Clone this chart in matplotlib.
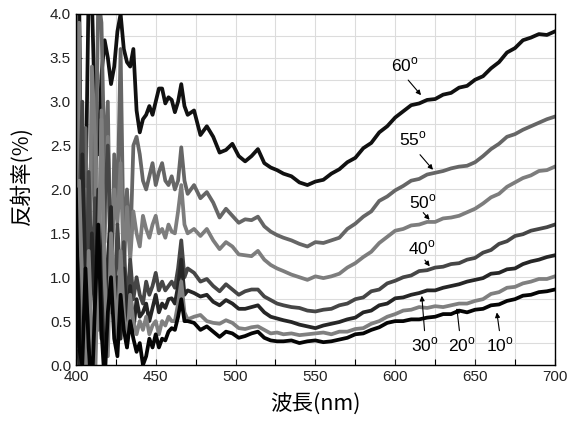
import numpy as np
import matplotlib.pyplot as plt
from matplotlib.ticker import MultipleLocator

plt.rcParams['font.family'] = ['Liberation Sans', 'DejaVu Sans']
plt.rcParams['mathtext.fontset'] = 'custom'
plt.rcParams['mathtext.rm'] = 'Liberation Sans'

# wavelength grid (nm): fine steps in the noisy blue end, coarser further on
wl = np.concatenate([np.arange(400, 471, 2), np.arange(474, 531, 4), np.arange(535, 701, 5)])

# reflectance (%) per incidence angle
r60 = [2.7, 4.3, 0.5, 1.8, 4.3, 4.2, 2.8, 2.4, 3.3, 3.7,
       3.5, 3.2, 3.4, 3.8, 4.0, 3.6, 3.45, 3.4, 3.6, 2.9,
       2.65, 2.8, 2.85, 2.95, 2.85, 3.0, 3.15, 3.15, 2.98, 3.05,
       3.02, 2.88, 3.0, 3.2, 2.95, 2.85,
       2.9, 2.62, 2.72, 2.6, 2.42, 2.45, 2.52, 2.38, 2.32, 2.38,
       2.46, 2.3, 2.25, 2.22, 2.18,
       2.15, 2.08, 2.05, 2.09, 2.11, 2.18, 2.23, 2.31, 2.36, 2.47,
       2.53, 2.65, 2.72, 2.82, 2.89, 2.96, 2.98, 3.02, 3.03, 3.08,
       3.1, 3.16, 3.18, 3.25, 3.29, 3.38, 3.45, 3.56, 3.61, 3.7,
       3.73, 3.77, 3.76, 3.8]
r55 = [4.3, 1.0, 0.2, 2.7, 0.8, 3.0, 1.5, 4.2, 3.9, 2.2,
       3.0, 0.6, 2.4, 1.8, 3.6, 1.2, 2.0, 1.3, 2.5, 2.6,
       2.4, 2.1, 2.0, 2.15, 2.3, 2.05, 2.2, 2.3, 2.1, 2.05,
       2.15, 2.0, 2.1, 2.48, 2.1, 1.95,
       2.05, 1.9, 1.97, 1.85, 1.68, 1.78, 1.7, 1.62, 1.66, 1.65,
       1.69, 1.58, 1.52, 1.48, 1.45,
       1.42, 1.38, 1.35, 1.4, 1.39, 1.42, 1.45, 1.55, 1.61, 1.69,
       1.75, 1.87, 1.92, 1.99, 2.04, 2.1, 2.12, 2.17, 2.19, 2.21,
       2.24, 2.26, 2.27, 2.31, 2.38, 2.46, 2.52, 2.6, 2.63, 2.68,
       2.72, 2.76, 2.8, 2.83]
r50 = [0.9, 3.9, 0.3, 2.0, 0.1, 3.4, 2.6, 0.4, 2.9, 1.4,
       2.6, 1.0, 2.0, 1.6, 2.3, 1.1, 1.8, 1.2, 1.75, 1.5,
       1.35, 1.7, 1.55, 1.45, 1.6, 1.7, 1.5, 1.55, 1.45, 1.6,
       1.52, 1.5, 1.75, 2.05, 1.6, 1.5,
       1.55, 1.47, 1.55, 1.42, 1.32, 1.4, 1.35, 1.26, 1.25, 1.24,
       1.3, 1.2, 1.14, 1.1, 1.07,
       1.03, 1.0, 0.97, 1.01, 0.99, 1.01, 1.04, 1.11, 1.16, 1.23,
       1.29, 1.39, 1.46, 1.53, 1.55, 1.59, 1.6, 1.63, 1.63, 1.67,
       1.68, 1.7, 1.74, 1.78, 1.84, 1.91, 1.95, 2.03, 2.08, 2.13,
       2.16, 2.21, 2.22, 2.26]
r40 = [0.4, 1.6, 3.0, 0.2, 2.2, 0.9, 1.9, 1.1, 0.3, 1.8,
       2.5, 1.3, 0.5, 1.6, 0.9, 1.4, 0.6, 1.2, 0.75, 1.0,
       0.8, 0.7, 0.95, 0.8, 0.9, 1.05, 0.85, 0.95, 0.85, 0.9,
       0.95, 0.88, 1.1, 1.42, 1.0, 1.1,
       1.05, 0.95, 0.98, 0.9, 0.84, 0.92, 0.86, 0.8, 0.84, 0.86,
       0.86, 0.78, 0.74, 0.7, 0.68,
       0.66, 0.65, 0.62, 0.61, 0.63, 0.64, 0.68, 0.7, 0.75, 0.77,
       0.84, 0.86, 0.93, 0.96, 1.0, 1.02, 1.07, 1.08, 1.11, 1.12,
       1.15, 1.16, 1.2, 1.22, 1.28, 1.31, 1.38, 1.41, 1.47, 1.49,
       1.53, 1.55, 1.57, 1.6]
r30 = [1.3, 0.0, 2.4, 1.0, -0.2, 1.5, 0.6, 2.0, 0.9, 0.2,
       1.2, 1.8, 0.4, 1.0, 0.3, 1.1, 0.5, 0.9, 0.4, 0.75,
       0.55, 0.6, 0.7, 0.5, 0.65, 0.8, 0.6, 0.7, 0.65, 0.75,
       0.76, 0.7, 0.9, 1.2, 0.8, 0.85,
       0.82, 0.78, 0.8, 0.72, 0.68, 0.74, 0.7, 0.64, 0.64, 0.66,
       0.68, 0.6, 0.55, 0.53, 0.51,
       0.49, 0.46, 0.44, 0.42, 0.45, 0.47, 0.49, 0.52, 0.54, 0.6,
       0.62, 0.68, 0.7, 0.76, 0.77, 0.8, 0.82, 0.85, 0.85, 0.88,
       0.9, 0.92, 0.95, 0.97, 0.99, 1.04, 1.05, 1.09, 1.1, 1.15,
       1.18, 1.2, 1.23, 1.25]
r20 = [0.2, 2.1, 0.9, -0.2, 1.3, 0.3, -0.2, 1.2, 2.8, 1.0,
       0.1, 1.5, 0.9, 0.3, 1.3, 0.6, 0.2, 0.8, 0.5, 0.35,
       0.5, 0.4, 0.55, 0.35, 0.45, 0.5, 0.35, 0.5, 0.45, 0.55,
       0.5, 0.5, 0.7, 0.95, 0.6, 0.52,
       0.55, 0.57, 0.5, 0.48, 0.47, 0.51, 0.48, 0.42, 0.41, 0.43,
       0.44, 0.4, 0.36, 0.37, 0.35,
       0.36, 0.34, 0.35, 0.36, 0.37, 0.35, 0.38, 0.38, 0.41, 0.42,
       0.47, 0.5, 0.55, 0.58, 0.62, 0.63, 0.66, 0.65, 0.67, 0.66,
       0.68, 0.7, 0.7, 0.73, 0.75, 0.81, 0.83, 0.88, 0.89, 0.93,
       0.95, 0.98, 0.98, 1.01]
r10 = [2.0, 0.2, 0.0, 1.1, 0.2, -0.3, 0.7, 1.6, 0.4, -0.2,
       0.6, 1.0, 0.3, 0.1, 0.8, 0.4, 0.2, 0.5, 0.3, 0.15,
       0.25, 0.0, 0.1, 0.3, 0.2, 0.35, 0.2, 0.3, 0.28, 0.38,
       0.42, 0.4, 0.55, 0.75, 0.5, 0.5,
       0.48, 0.4, 0.44, 0.38, 0.32, 0.38, 0.36, 0.31, 0.33, 0.36,
       0.38, 0.31, 0.28, 0.27, 0.27,
       0.28, 0.25, 0.27, 0.28, 0.26, 0.27, 0.29, 0.31, 0.35, 0.36,
       0.4, 0.43, 0.48, 0.5, 0.5, 0.52, 0.52, 0.54, 0.55, 0.58,
       0.58, 0.62, 0.6, 0.63, 0.64, 0.68, 0.69, 0.73, 0.75, 0.79,
       0.8, 0.83, 0.84, 0.86]

curves = [(r60, '#111111'), (r55, '#666666'), (r50, '#7d7d7d'), (r40, '#464646'),
          (r30, '#262626'), (r20, '#808080'), (r10, '#050505')]

fig = plt.figure(figsize=(5.75, 4.21), dpi=100)
ax = fig.add_axes([0.132, 0.133, 0.833, 0.834])

for vals, col in curves:
    ax.plot(wl, vals, color=col, lw=2.7, solid_joinstyle='round')

ax.set_xlim(400, 700)
ax.set_ylim(0, 4)
ax.xaxis.set_major_locator(MultipleLocator(50))
ax.xaxis.set_minor_locator(MultipleLocator(25))
ax.yaxis.set_major_locator(MultipleLocator(0.5))
ax.yaxis.set_minor_locator(MultipleLocator(0.25))
ax.yaxis.set_major_formatter(plt.FormatStrFormatter('%.1f'))
ax.grid(which='both', color='#dcdcdc', lw=0.8)
ax.set_axisbelow(True)
ax.tick_params(which='both', direction='in', length=4, width=0.8, top=False, right=False)
ax.tick_params(labelsize=11, colors='#222222')
for s in ax.spines.values():
    s.set_linewidth(1.0)

cjk = ['Noto Sans CJK JP', 'DejaVu Sans']
ax.set_xlabel('波長(nm)', family=cjk, fontsize=15.5, labelpad=7)
ax.set_ylabel('反射率(%)', family=cjk, fontsize=15.5)
ax.yaxis.set_label_coords(-0.09, 0.54)

# angle labels with pointer arrows
labels = [('60', (606, 3.42), (607, 3.27), (617.3, 3.05)),
          ('55', (611, 2.57), (614.4, 2.42), (624.8, 2.2)),
          ('50', (617.5, 1.86), (616.4, 1.76), (622.7, 1.63)),
          ('40', (616.4, 1.33), (617.5, 1.22), (622.7, 1.1)),
          ('30', (618.5, 0.23), (618.5, 0.36), (616.5, 0.82)),
          ('20', (641.5, 0.23), (640.4, 0.36), (638.4, 0.68)),
          ('10', (665.5, 0.23), (665.5, 0.36), (663.4, 0.63))]
for ang, txt, start, tip in labels:
    ax.text(txt[0], txt[1], ang + r'$^{\mathrm{o}}$', fontsize=12.5, ha='center', va='center')
    ax.annotate('', xy=tip, xytext=start,
                arrowprops=dict(arrowstyle='-|>', color='k', lw=0.8, mutation_scale=7))

fig.savefig('out.png', dpi=100)
